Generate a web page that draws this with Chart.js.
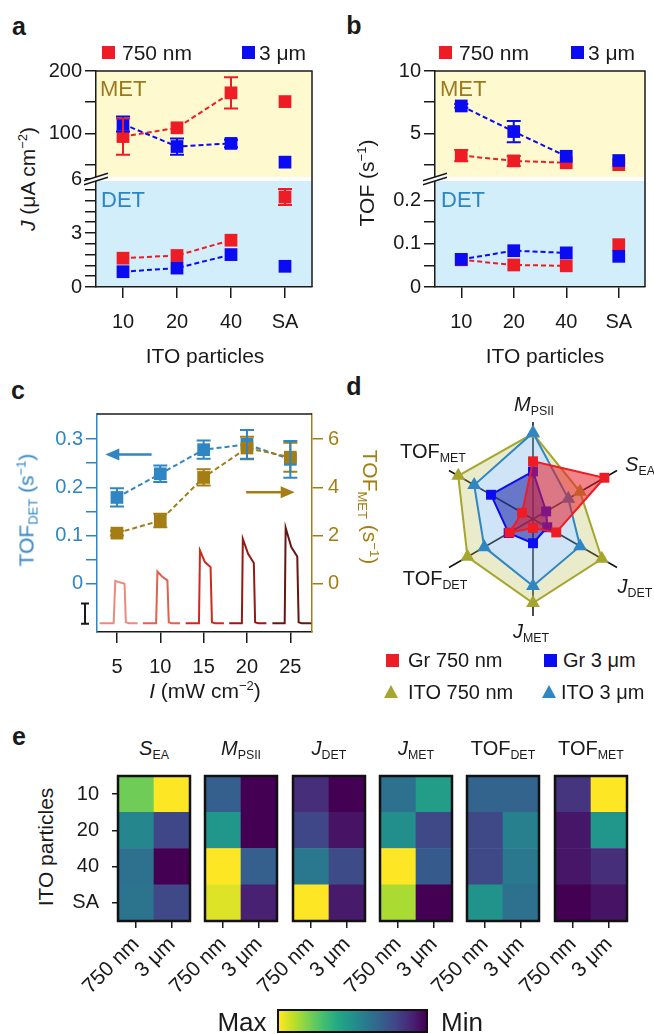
<!DOCTYPE html>
<html>
<head>
<meta charset="utf-8">
<script src="https://cdn.jsdelivr.net/npm/chart.js"></script>
<style>
  body { margin: 0; background: #fff; }
  #fig { position: relative; width: 654px; height: 1034px; overflow: hidden; font-family: Arial, "Liberation Sans", Helvetica, sans-serif; color: #1a1a1a; }
  #fig canvas { position: absolute; }
  .lbl { position: absolute; white-space: nowrap; line-height: 1; font-size: 21px; }
  .lbl sub { font-size: 0.62em; vertical-align: -0.32em; line-height: 0; }
  .lbl sup { font-size: 0.62em; vertical-align: 0.6em; line-height: 0; }
  .sw { position: absolute; width: 13px; height: 13px; }
  .tri { position: absolute; width: 0; height: 0; border-left: 7px solid transparent; border-right: 7px solid transparent; border-bottom: 13px solid; }
  .cbar { position: absolute; box-sizing: border-box; border: 2px solid #111; }
</style>
</head>
<body>
<div id="fig"></div>
<script>
// ---------- data ----------
const particles = ['10', '20', '40', 'SA'];

// a: J (uA cm-2), MET upper part / DET lower part
const jMet750 = [95, 109, 165, 151];
const jMet750Err = [29, 0, 25, 0];
const jMet3 = [115, 79, 84, 54];
const jMet3Err = [12, 13, 6, 0];
const jDet750 = [1.6, 1.75, 2.6, 5.0];
const jDet750Err = [0, 0, 0, 0.45];
const jDet3 = [0.85, 1.05, 1.8, 1.15];
const jDet3Err = [0, 0, 0, 0];
const jMetTicks = [50, 100, 150, 200];
const jMetLabels = [100, 200];
const jDetTicks = [0, 0.6, 1.2, 1.8, 2.4, 3, 3.6, 4.2, 4.8, 5.4, 6];
const jDetLabels = [0, 3, 6];

// b: TOF (s-1)
const tofMet750 = [3.23, 2.8, 2.65, 2.5];
const tofMet750Err = [0.45, 0.4, 0, 0];
const tofMet3 = [7.2, 5.15, 3.17, 2.83];
const tofMet3Err = [0.15, 0.85, 0, 0];
const tofDet750 = [0.063, 0.051, 0.049, 0.098];
const tofDet3 = [0.064, 0.084, 0.079, 0.071];
const noErr = [0, 0, 0, 0];
const tofMetTicks = [2.5, 5, 7.5, 10];
const tofMetLabels = [5, 10];
const tofDetTicks = [0, 0.05, 0.1, 0.15, 0.2];
const tofDetLabels = [0, 0.1, 0.2];

// c: light intensity dependence
const intensity = [5, 10, 15, 20, 25];
const tofDetI = [0.179, 0.228, 0.278, 0.289, 0.258];
const tofDetIErr = [0.019, 0.017, 0.019, 0.03, 0.038];
const tofMetI = [2.1, 2.62, 4.41, 5.63, 5.25];
const tofMetIErr = [0.1, 0.28, 0.34, 0.47, 0.6];
const intensityTicks = [5, 10, 15, 20, 25];
const detTicksC = [0, 0.05, 0.1, 0.15, 0.2, 0.25, 0.3];
const detLabelsC = [0, 0.1, 0.2, 0.3];
const metTicksC = [0, 2, 4, 6];
// photocurrent traces, on the left axis below zero
const trace5 = [[3.0, -0.082], [4.62, -0.082], [4.81, 0.006], [5.3, 0.003], [5.88, 0], [6.03, -0.08], [6.4, -0.082], [7.38, -0.082]];
const trace10 = [[7.99, -0.082], [9.52, -0.082], [9.67, 0.0255], [10.2, 0.015], [10.82, 0.007], [10.98, -0.08], [11.3, -0.082], [12.28, -0.082]];
const trace15 = [[12.93, -0.082], [14.46, -0.082], [14.58, 0.069], [15.15, 0.045], [15.8, 0.0345], [15.96, -0.08], [16.3, -0.082], [17.34, -0.082]];
const trace20 = [[17.95, -0.082], [19.41, -0.082], [19.52, 0.093], [20.13, 0.062], [20.79, 0.043], [20.94, -0.08], [21.3, -0.082], [22.24, -0.082]];
const trace25 = [[22.93, -0.082], [24.35, -0.082], [24.46, 0.116], [25.11, 0.076], [25.8, 0.0566], [25.96, -0.08], [26.3, -0.082], [27.41, -0.082]];
const arrowDet = [[9.0, 0.268], [3.66, 0.268]];
const arrowMet = [[19.9, 0.19], [25.5, 0.19]];
const scaleBar = [-0.041, -0.083];

// d: radar (normalised)
const radarAxes = ['M_PSII', 'S_EA', 'J_DET', 'J_MET', 'TOF_DET', 'TOF_MET'];
const gr750 = [0.595, 0.85, 0.277, 0.093, 0.28, 0.13];
const gr3 = [0.49, 0.157, 0.17, 0.25, 0.29, 0.5];
const ito750 = [0.88, 0.56, 0.82, 0.866, 0.78, 0.89];
const ito3 = [0.89, 0.42, 0.56, 0.69, 0.58, 0.7];

// e: heatmaps, rows 10/20/40/SA, 0 = min, 1 = max
const hmRows = ['10', '20', '40', 'SA'];
const hmCols = ['750 nm', '3 μm'];
const sEA750 = [0.78, 0.46, 0.37, 0.38];
const sEA3 = [1.0, 0.21, 0.0, 0.22];
const mPSII750 = [0.3, 0.52, 1.0, 0.95];
const mPSII3 = [0.0, 0.0, 0.3, 0.09];
const jDETh750 = [0.13, 0.21, 0.4, 1.0];
const jDETh3 = [0.0, 0.05, 0.23, 0.07];
const jMETh750 = [0.37, 0.49, 1.0, 0.87];
const jMETh3 = [0.55, 0.22, 0.28, 0.0];
const tDETh750 = [0.32, 0.22, 0.22, 0.51];
const tDETh3 = [0.32, 0.43, 0.4, 0.37];
const tMETh750 = [0.15, 0.06, 0.06, 0.0];
const tMETh3 = [1.0, 0.52, 0.13, 0.05];

// ---------- setup ----------
const INK = '#1a1a1a';
const RED = '#ee1c24';
const BLUE = '#0b0bf2';
const STEEL = '#2f86c3';
const GOLD = '#a47e14';
const OLIVE = '#a6a62e';

Chart.defaults.font.family = 'Arial, "Liberation Sans", Helvetica, sans-serif';
Chart.defaults.font.size = 20;
Chart.defaults.color = INK;
Chart.defaults.animation = false;
Chart.defaults.events = [];
Chart.defaults.plugins.legend.display = false;
Chart.defaults.plugins.tooltip.enabled = false;

const fig = document.getElementById('fig');

function canvasAt(left, top, w, h) {
  const c = document.createElement('canvas');
  c.width = w; c.height = h;
  c.style.left = left + 'px'; c.style.top = top + 'px';
  c.style.width = w + 'px'; c.style.height = h + 'px';
  fig.appendChild(c);
  return c;
}

function text(html, x, y, o = {}) {
  const d = document.createElement('div');
  d.className = 'lbl';
  d.innerHTML = html;
  d.style.left = x + 'px'; d.style.top = y + 'px';
  if (o.size) d.style.fontSize = o.size + 'px';
  if (o.color) d.style.color = o.color;
  if (o.bold) d.style.fontWeight = 'bold';
  const ax = o.align === 'left' ? '0' : '-50%';
  d.style.transform = 'translate(' + ax + ',-50%)' + (o.rot ? ' rotate(' + o.rot + 'deg)' : '');
  fig.appendChild(d);
}

function swatch(x, y, color, shape) {
  const d = document.createElement('div');
  if (shape === 'tri') {
    d.className = 'tri';
    d.style.borderBottomColor = color;
    d.style.left = (x - 7) + 'px'; d.style.top = (y - 7) + 'px';
  } else {
    d.className = 'sw';
    d.style.background = color;
    d.style.left = (x - 6.5) + 'px'; d.style.top = (y - 6.5) + 'px';
  }
  fig.appendChild(d);
}

// fixed axis thickness so chart areas land where the figure has them
const fit = (size, dim) => s => {
  if (dim === 'w') s.width = size; else s.height = size;
  s.paddingLeft = s.paddingRight = s.paddingTop = s.paddingBottom = 0;
};
const setTicks = vals => s => { s.ticks = vals.map(v => ({ value: v })); };

const errorBars = {
  id: 'errorBars',
  afterDatasetsDraw(chart) {
    const ctx = chart.ctx;
    chart.data.datasets.forEach((ds, i) => {
      if (!ds.errors) return;
      const meta = chart.getDatasetMeta(i);
      const ys = chart.scales[meta.yAxisID];
      ctx.save();
      ctx.strokeStyle = ds.borderColor;
      ctx.lineWidth = 2;
      meta.data.forEach((pt, j) => {
        const e = ds.errors[j];
        if (!e) return;
        const raw = ds.data[j];
        const v = typeof raw === 'object' ? raw.y : raw;
        const t = ys.getPixelForValue(v + e), b = ys.getPixelForValue(v - e);
        ctx.beginPath();
        ctx.moveTo(pt.x, t); ctx.lineTo(pt.x, b);
        ctx.moveTo(pt.x - 7, t); ctx.lineTo(pt.x + 7, t);
        ctx.moveTo(pt.x - 7, b); ctx.lineTo(pt.x + 7, b);
        ctx.stroke();
      });
      ctx.restore();
    });
  }
};

// coloured MET/DET bands, white break, box and // marks
const splitDecor = {
  id: 'splitDecor',
  beforeDraw(chart) {
    const { ctx, chartArea: a, scales } = chart;
    ctx.save();
    ctx.fillStyle = '#fff9cf';
    ctx.fillRect(a.left, scales.ym.top, a.width, scales.ym.bottom - scales.ym.top);
    ctx.fillStyle = '#d2eefb';
    ctx.fillRect(a.left, scales.yd.top, a.width, scales.yd.bottom - scales.yd.top);
    ctx.fillStyle = '#fff';
    ctx.fillRect(a.left, scales.ym.bottom - 2, a.width, 4);
    ctx.restore();
  },
  afterDraw(chart) {
    const { ctx, chartArea: a, scales } = chart;
    ctx.save();
    ctx.strokeStyle = INK;
    ctx.lineWidth = 1.5;
    ctx.beginPath();
    ctx.moveTo(a.left, a.top); ctx.lineTo(a.right, a.top); ctx.lineTo(a.right, a.bottom);
    ctx.stroke();
    const x0 = a.left, y0 = scales.ym.bottom, dx = 12, dy = 3.8, g = 2;
    ctx.fillStyle = '#fff';
    ctx.beginPath();
    ctx.moveTo(x0 - dx, y0 + dy + g); ctx.lineTo(x0 + dx, y0 - dy + g);
    ctx.lineTo(x0 + dx, y0 - dy - g); ctx.lineTo(x0 - dx, y0 + dy - g);
    ctx.closePath(); ctx.fill();
    ctx.beginPath();
    ctx.moveTo(x0 - dx, y0 + dy + g); ctx.lineTo(x0 + dx, y0 - dy + g);
    ctx.moveTo(x0 - dx, y0 + dy - g); ctx.lineTo(x0 + dx, y0 - dy - g);
    ctx.stroke();
    ctx.restore();
  }
};

function splitChart(o) {
  const cv = canvasAt(o.box[0], o.box[1], o.box[2], o.box[3]);
  const series = (data, errors, color, axis) => ({
    data, errors, yAxisID: axis, borderColor: color, backgroundColor: color,
    borderWidth: 2, borderDash: [5, 3], pointStyle: 'rect', pointRadius: 9, pointBorderWidth: 0,
    segment: { borderColor: c => (c.p1DataIndex === 3 ? 'rgba(0,0,0,0)' : undefined) }
  });
  const yAxis = (min, max, ticks, labels) => ({
    type: 'linear', position: 'left', stack: 'split', stackWeight: 1, min, max,
    afterBuildTicks: setTicks(ticks),
    afterFit: fit(o.yWidth, 'w'),
    ticks: { autoSkip: false, padding: 3, callback: v => (labels.includes(v) ? String(v) : '') },
    grid: { drawOnChartArea: false, tickLength: 11, color: INK, lineWidth: 1.5 },
    border: { color: INK, width: 1.5 }
  });
  new Chart(cv, {
    type: 'line',
    data: {
      labels: particles,
      datasets: [
        series(o.met3, o.met3Err, BLUE, 'ym'),
        series(o.met750, o.met750Err, RED, 'ym'),
        series(o.det3, o.det3Err, BLUE, 'yd'),
        series(o.det750, o.det750Err, RED, 'yd')
      ]
    },
    options: {
      responsive: false,
      layout: { padding: o.pad },
      scales: {
        x: {
          offset: true,
          afterFit: fit(o.xHeight, 'h'),
          ticks: { padding: 12 },
          grid: { drawOnChartArea: false, tickLength: 11, color: INK, lineWidth: 1.5 },
          border: { color: INK, width: 1.5 }
        },
        yd: yAxis(o.detRange[0], o.detRange[1], o.detTicks, o.detLabels),
        ym: yAxis(o.metRange[0], o.metRange[1], o.metTicks, o.metLabels)
      }
    },
    plugins: [splitDecor, errorBars]
  });
}

// ---------- panel a ----------
splitChart({
  box: [40, 60, 285, 285], pad: { top: 11, right: 13, left: 0, bottom: 0 }, yWidth: 56, xHeight: 58,
  met750: jMet750, met750Err: jMet750Err, met3: jMet3, met3Err: jMet3Err,
  det750: jDet750, det750Err: jDet750Err, det3: jDet3, det3Err: jDet3Err,
  metRange: [27, 200], metTicks: jMetTicks, metLabels: jMetLabels,
  detRange: [0, 6], detTicks: jDetTicks, detLabels: jDetLabels
});

// ---------- panel b ----------
splitChart({
  box: [375, 60, 279, 285], pad: { top: 11, right: 1, left: 0, bottom: 0 }, yWidth: 60, xHeight: 58,
  met750: tofMet750, met750Err: tofMet750Err, met3: tofMet3, met3Err: tofMet3Err,
  det750: tofDet750, det750Err: noErr, det3: tofDet3, det3Err: noErr,
  metRange: [1.35, 10], metTicks: tofMetTicks, metLabels: tofMetLabels,
  detRange: [0, 0.25], detTicks: tofDetTicks, detLabels: tofDetLabels
});

// ---------- panel c ----------
function drawArrow(ctx, x1, y1, x2, y2, color) {
  const dir = Math.sign(x2 - x1);
  ctx.strokeStyle = color; ctx.fillStyle = color; ctx.lineWidth = 2.5;
  ctx.beginPath(); ctx.moveTo(x1, y1); ctx.lineTo(x2 - dir * 10, y2); ctx.stroke();
  ctx.beginPath(); ctx.moveTo(x2, y2); ctx.lineTo(x2 - dir * 14, y2 - 6); ctx.lineTo(x2 - dir * 14, y2 + 6);
  ctx.closePath(); ctx.fill();
}

const cDecor = {
  id: 'cDecor',
  afterDraw(chart) {
    const { ctx, chartArea: a, scales } = chart;
    const xs = scales.x, yl = scales.yl;
    ctx.save();
    ctx.strokeStyle = INK; ctx.lineWidth = 1.5;
    ctx.beginPath(); ctx.moveTo(a.left, a.top); ctx.lineTo(a.right, a.top); ctx.stroke();
    // scale bar for the traces
    const bx = a.left - 12, b1 = yl.getPixelForValue(scaleBar[0]), b2 = yl.getPixelForValue(scaleBar[1]);
    ctx.lineWidth = 2;
    ctx.beginPath();
    ctx.moveTo(bx, b1); ctx.lineTo(bx, b2);
    ctx.moveTo(bx - 4, b1); ctx.lineTo(bx + 4, b1);
    ctx.moveTo(bx - 4, b2); ctx.lineTo(bx + 4, b2);
    ctx.stroke();
    const px = p => [xs.getPixelForValue(p[0]), yl.getPixelForValue(p[1])];
    const d0 = px(arrowDet[0]), d1 = px(arrowDet[1]);
    drawArrow(ctx, d0[0], d0[1], d1[0], d1[1], STEEL);
    const m0 = px(arrowMet[0]), m1 = px(arrowMet[1]);
    drawArrow(ctx, m0[0], m0[1], m1[0], m1[1], GOLD);
    ctx.restore();
  }
};

const traceColors = ['#ec8a7c', '#e0614f', '#cc2a1c', '#961a12', '#651812'];
const pts = arr => arr.map(([x, y]) => ({ x, y }));
const xy = (xsArr, ysArr) => xsArr.map((x, i) => ({ x, y: ysArr[i] }));

new Chart(canvasAt(40, 400, 310, 280), {
  type: 'line',
  data: {
    datasets: [
      { data: xy(intensity, tofMetI), errors: tofMetIErr, yAxisID: 'yr', borderColor: GOLD, backgroundColor: GOLD,
        borderWidth: 2, borderDash: [5, 3], pointStyle: 'rect', pointRadius: 9, pointBorderWidth: 0 },
      { data: xy(intensity, tofDetI), errors: tofDetIErr, yAxisID: 'yl', borderColor: STEEL, backgroundColor: STEEL,
        borderWidth: 2, borderDash: [5, 3], pointStyle: 'rect', pointRadius: 9, pointBorderWidth: 0 },
      ...[trace5, trace10, trace15, trace20, trace25].map((t, i) => ({
        data: pts(t), yAxisID: 'yl', borderColor: traceColors[i], borderWidth: 2, pointRadius: 0
      }))
    ]
  },
  options: {
    responsive: false,
    layout: { padding: { top: 14, right: 0, left: 0, bottom: 0 } },
    scales: {
      x: {
        type: 'linear', min: 2.7, max: 27.5,
        afterBuildTicks: setTicks(intensityTicks), afterFit: fit(48, 'h'),
        ticks: { padding: 12 },
        grid: { drawOnChartArea: false, tickLength: 11, color: INK, lineWidth: 1.5 },
        border: { color: INK, width: 1.5 }
      },
      yl: {
        type: 'linear', position: 'left', min: -0.1, max: 0.352,
        afterBuildTicks: setTicks(detTicksC), afterFit: fit(57, 'w'),
        ticks: { color: STEEL, autoSkip: false, padding: 3, callback: v => (detLabelsC.includes(v) ? String(v) : '') },
        grid: { drawOnChartArea: false, tickLength: 11, color: STEEL, lineWidth: 1.5 },
        border: { color: STEEL, width: 1.5 }
      },
      yr: {
        type: 'linear', position: 'right', min: -2, max: 7.04,
        afterBuildTicks: setTicks(metTicksC), afterFit: fit(38, 'w'),
        ticks: { color: GOLD, autoSkip: false, padding: 5 },
        grid: { drawOnChartArea: false, tickLength: 11, color: GOLD, lineWidth: 1.5 },
        border: { color: GOLD, width: 1.5 }
      }
    }
  },
  plugins: [cDecor, errorBars]
});

// ---------- panel d ----------
new Chart(canvasAt(415, 400, 236, 240), {
  type: 'radar',
  data: {
    labels: radarAxes,
    datasets: [
      { label: 'Gr 750 nm', data: gr750, borderColor: RED, backgroundColor: 'rgba(232,30,40,0.55)', fill: 'origin',
        borderWidth: 2, pointStyle: 'rect', pointRadius: 7, pointBackgroundColor: RED, pointBorderWidth: 0 },
      { label: 'Gr 3 μm', data: gr3, borderColor: BLUE, backgroundColor: 'rgba(20,30,160,0.55)', fill: 'origin',
        borderWidth: 2, pointStyle: 'rect', pointRadius: 7, pointBackgroundColor: BLUE, pointBorderWidth: 0 },
      { label: 'ITO 3 μm', data: ito3, borderColor: STEEL, backgroundColor: 'rgba(110,175,230,0.33)', fill: 'origin',
        borderWidth: 2, pointStyle: 'triangle', pointRadius: 8, pointBackgroundColor: STEEL, pointBorderWidth: 0 },
      { label: 'ITO 750 nm', data: ito750, borderColor: OLIVE, backgroundColor: 'rgba(185,190,80,0.3)', fill: '-1',
        borderWidth: 2, pointStyle: 'triangle', pointRadius: 8, pointBackgroundColor: OLIVE, pointBorderWidth: 0 }
    ]
  },
  options: {
    responsive: false,
    layout: { padding: { left: 20, right: 20, top: 22, bottom: 24 } },
    elements: { line: { tension: 0 } },
    scales: {
      r: {
        min: 0, max: 1,
        ticks: { display: false },
        grid: { display: false },
        angleLines: { color: '#111', lineWidth: 1.5 },
        pointLabels: { display: false }
      }
    }
  }
});

// ---------- panel e ----------
const viridisStops = ['#440154', '#482475', '#414487', '#355f8d', '#2a788e', '#21918c', '#22a884', '#44bf70', '#7ad151', '#bddf26', '#fde725'];
function viridis(t) {
  const p = Math.max(0, Math.min(1, t)) * 10;
  const i = Math.min(9, Math.floor(p)), f = p - i;
  const h = s => [1, 3, 5].map(k => parseInt(s.substr(k, 2), 16));
  const a = h(viridisStops[i]), b = h(viridisStops[i + 1]);
  return 'rgb(' + a.map((v, k) => Math.round(v + (b[k] - v) * f)).join(',') + ')';
}

const frame = {
  id: 'frame',
  afterDraw(chart) {
    const { ctx, chartArea: a } = chart;
    ctx.save();
    ctx.strokeStyle = '#111'; ctx.lineWidth = 2.5;
    ctx.strokeRect(a.left, a.top, a.width, a.height);
    ctx.restore();
  }
};

const hmLeft = [118, 205, 293, 380, 467, 555];
const hmTitles = ['<i>S</i><sub>EA</sub>', '<i>M</i><sub>PSII</sub>', '<i>J</i><sub>DET</sub>', '<i>J</i><sub>MET</sub>', 'TOF<sub>DET</sub>', 'TOF<sub>MET</sub>'];
const hmData = [[sEA750, sEA3], [mPSII750, mPSII3], [jDETh750, jDETh3], [jMETh750, jMETh3], [tDETh750, tDETh3], [tMETh750, tMETh3]];

hmData.forEach(([v750, v3], i) => {
  const L = hmLeft[i], first = i === 0;
  const datasets = [3, 2, 1, 0].map(r => ({
    label: hmRows[r],
    data: [1, 1],
    backgroundColor: [viridis(v750[r]), viridis(v3[r])],
    borderWidth: 0, barPercentage: 1, categoryPercentage: 1
  }));
  new Chart(canvasAt(L - 60, 770, 146, 264), {
    type: 'bar',
    data: { labels: hmCols, datasets },
    options: {
      responsive: false,
      layout: { padding: { left: first ? 0 : 60, top: 6, right: 14, bottom: 0 } },
      scales: {
        x: {
          stacked: true, afterFit: fit(113, 'h'),
          ticks: { minRotation: 45, maxRotation: 45, padding: 4, autoSkip: false, font: { size: 21 } },
          grid: { offset: false, drawOnChartArea: false, tickLength: 7, color: INK, lineWidth: 1.5 },
          border: { display: false }
        },
        y: {
          stacked: true, min: 0, max: 4, display: first,
          afterBuildTicks: setTicks([0.5, 1.5, 2.5, 3.5]), afterFit: fit(first ? 60 : 0, 'w'),
          ticks: { autoSkip: false, padding: 13, callback: v => hmRows[3 - Math.floor(v)] },
          grid: { drawOnChartArea: false, tickLength: 6, color: INK, lineWidth: 1.5 },
          border: { display: false }
        }
      }
    },
    plugins: [frame]
  });
  text(hmTitles[i], L + 36, 748, { size: 20 });
});

// colour bar
const cb = document.createElement('div');
cb.className = 'cbar';
cb.style.left = '277px'; cb.style.top = '1009px'; cb.style.width = '151px'; cb.style.height = '24px';
cb.style.background = 'linear-gradient(to right,' + viridisStops.slice().reverse().join(',') + ')';
fig.appendChild(cb);
text('Max', 242, 1022, { size: 26 });
text('Min', 462, 1022, { size: 26 });

// ---------- text ----------
text('a', 19, 26, { size: 25, bold: true });
text('b', 354, 25, { size: 25, bold: true });
text('c', 18, 390, { size: 25, bold: true });
text('d', 354, 386, { size: 25, bold: true });
text('e', 19, 736, { size: 25, bold: true });

swatch(108.3, 52, RED); text('750 nm', 122, 52, { align: 'left' });
swatch(248.3, 52, BLUE); text('3 μm', 259, 52, { align: 'left' });
swatch(445.5, 52, RED); text('750 nm', 459, 52, { align: 'left' });
swatch(577.3, 52, BLUE); text('3 μm', 588, 52, { align: 'left' });

text('MET', 100, 89, { align: 'left', size: 22, color: '#9c7a1c' });
text('DET', 101, 200, { align: 'left', size: 22, color: '#2d86c4' });
text('MET', 440, 89, { align: 'left', size: 22, color: '#9c7a1c' });
text('DET', 441, 200, { align: 'left', size: 22, color: '#2d86c4' });

text('<i>J</i> (μA cm<sup>−2</sup>)', 27, 179, { rot: -90 });
text('ITO particles', 205, 355);
text('TOF (s<sup>−1</sup>)', 366, 183, { rot: -90 });
text('ITO particles', 545, 355);

text('TOF<sub>DET</sub> (s<sup>−1</sup>)', 26, 510, { rot: -90, color: STEEL });
text('TOF<sub>MET</sub> (s<sup>−1</sup>)', 370, 507, { rot: 90, color: GOLD });
text('<i>I</i> (mW cm<sup>−2</sup>)', 205, 690);

text('<i>M</i><sub>PSII</sub>', 534, 404, { size: 20 });
text('<i>S</i><sub>EA</sub>', 640, 464, { size: 20 });
text('<i>J</i><sub>DET</sub>', 635, 586, { size: 20 });
text('<i>J</i><sub>MET</sub>', 531, 631, { size: 20 });
text('TOF<sub>DET</sub>', 435, 578, { size: 20 });
text('TOF<sub>MET</sub>', 433, 451, { size: 20 });

swatch(392.5, 660, RED); text('Gr 750 nm', 408, 660, { align: 'left', size: 20 });
swatch(550, 660, BLUE); text('Gr 3 μm', 563, 660, { align: 'left', size: 20 });
swatch(390.5, 692, OLIVE, 'tri'); text('ITO 750 nm', 408, 692, { align: 'left', size: 20 });
swatch(549, 692, STEEL, 'tri'); text('ITO 3 μm', 561, 692, { align: 'left', size: 20 });

text('ITO particles', 45, 847, { rot: -90 });
</script>
</body>
</html>
